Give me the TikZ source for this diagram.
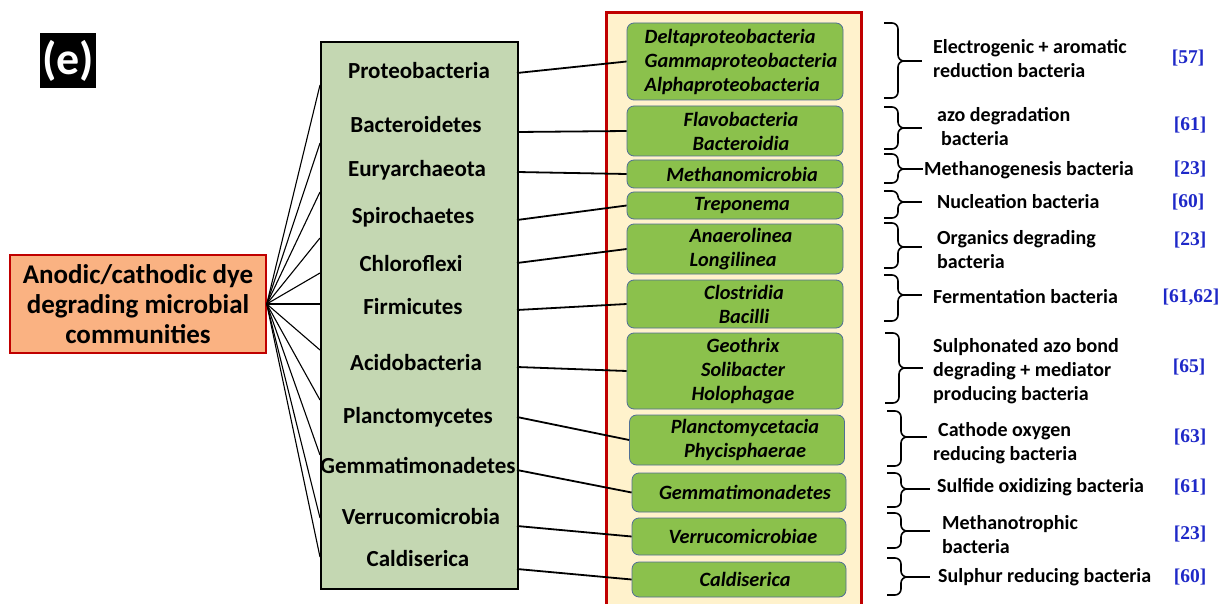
\documentclass[tikz,border=0pt]{standalone}
\usepackage{fontspec}
\setmainfont{Carlito}
\newfontfamily\refont{Liberation Serif}
\definecolor{rootfill}{RGB}{250,178,130}
\definecolor{dred}{RGB}{192,0,0}
\definecolor{phyfill}{RGB}{196,215,178}
\definecolor{panelfill}{RGB}{255,242,204}
\definecolor{clsfill}{RGB}{139,193,76}
\definecolor{clsborder}{RGB}{80,110,150}
\definecolor{refblue}{RGB}{30,40,200}
\tikzset{
 rootbox/.style={draw=dred, line width=1.5, fill=rootfill, align=center, minimum width=256, minimum height=98, font=\fontsize{27}{30}\selectfont\bfseries},
 phy/.style={font=\fontsize{23}{26}\selectfont\bfseries, inner sep=0},
 cls/.style={draw=clsborder, line width=0.8, fill=clsfill, rounded corners=7, align=center, minimum width=216, inner sep=0, font=\fontsize{20.3}{24}\selectfont\bfseries\itshape},
 desc/.style={anchor=west, inner sep=0, align=left, font=\fontsize{20}{24}\selectfont\bfseries},
 refn/.style={text=refblue, inner sep=0, font=\refont\fontsize{19.5}{22}\selectfont\bfseries},
 fan/.style={line width=1.1},
 link/.style={line width=1.8},
 brc/.style={line width=1.6, rounded corners=6},
}
\newcommand\mybrace[6]{%
 \coordinate (#6t) at (#1+21,#4);
 \coordinate (#6e) at (#5,#4);
 \draw[brc] (#1,#2) -- (#1+14,#2) -- (#1+14,#4) -- (#6t);
 \draw[brc] (#1,#3) -- (#1+14,#3) -- (#1+14,#4) -- (#6t);
 \draw[brc] (#6t) -- (#6e);
}
\begin{document}
\begin{tikzpicture}[x=1pt,y=-1pt]
\useasboundingbox (0,0) rectangle (1220,604);
\fill[white] (0,0) rectangle (1220,604);
% label
\node[fill=black, text=white, minimum width=56, minimum height=55, inner sep=0, font=\fontsize{46}{46}\selectfont\bfseries] (lbl) at (68,60.5) {(e)};
% red panel
\draw[draw=dred, line width=3, fill=panelfill] (606,13) rectangle (861,610);
% root
\node[rootbox] (root) at (138,304) {Anodic/cathodic dye\\degrading microbial\\communities};
% phylum box
\node[draw=black, line width=2, fill=phyfill, minimum width=197, minimum height=547, anchor=north west, inner sep=0] (phyl) at (320,41) {};
% fan endpoints
\foreach \i/\y in {1/85,2/143,3/192,4/238,5/273,6/304,7/350,8/400,9/455,10/518,11/557}{
 \coordinate (f\i) at (320,\y);
 \draw[fan] (root.east) -- (f\i);
}
% phylum labels
\node[phy] (ph1) at (419,71) {Proteobacteria};
\node[phy] (ph2) at (416,125) {Bacteroidetes};
\node[phy] (ph3) at (417,170) {Euryarchaeota};
\node[phy] (ph4) at (413,217) {Spirochaetes};
\node[phy] (ph5) at (411,264) {Chloroflexi};
\node[phy] (ph6) at (413,307) {Firmicutes};
\node[phy] (ph7) at (416,363) {Acidobacteria};
\node[phy] (ph8) at (418,417) {Planctomycetes};
\node[phy] (ph9) at (418,465) {Gemmatimonadetes};
\node[phy] (ph10) at (421,517) {Verrucomicrobia};
\node[phy] (ph11) at (418,559) {Caldiserica};
% class boxes
\node[cls, minimum height=77, align=left] (c1) at (735,61.5) {\hspace*{12pt}Deltaproteobacteria\\\hspace*{12pt}Gammaproteobacteria\\\hspace*{12pt}Alphaproteobacteria};
\node[cls, minimum height=50] (c2) at (735,131) {\hspace*{12pt}Flavobacteria\\\hspace*{12pt}Bacteroidia};
\node[cls, minimum height=28] (c3) at (735,174) {\hspace*{14pt}Methanomicrobia};
\node[cls, minimum height=27] (c4) at (735,205.5) {\hspace*{14pt}Treponema};
\node[cls, minimum height=50, align=left] (c5) at (735,249) {\hspace*{12pt}Anaerolinea\\\hspace*{12pt}Longilinea};
\node[cls, minimum height=48] (c6) at (735,304) {\hspace*{18pt}Clostridia\\\hspace*{18pt}Bacilli};
\node[cls, minimum height=76] (c7) at (735,371) {\hspace*{16pt}Geothrix\\\hspace*{16pt}Solibacter\\\hspace*{16pt}Holophagae};
\node[cls, minimum height=50, minimum width=215] (c8) at (737,440) {\hspace*{16pt}Planctomycetacia\\\hspace*{16pt}Phycisphaerae};
\node[cls, minimum height=39, minimum width=214] (c9) at (739,492.5) {\hspace*{12pt}Gemmatimonadetes};
\node[cls, minimum height=37, minimum width=214] (c10) at (739,536.5) {\hspace*{8pt}Verrucomicrobiae};
\node[cls, minimum height=35, minimum width=214] (c11) at (739,579.5) {\hspace*{12pt}Caldiserica};
% phylum -> class links
\foreach \i/\y in {1/73,2/132,3/172,4/220,5/263,6/310,7/367,8/417,9/470,10/526,11/569}{
 \coordinate (p\i) at (517,\y);
 \draw[link] (p\i) -- (c\i.west);
}
% braces
\mybrace{884}{23}{98}{61}{922}{b1}
\mybrace{884}{107}{149}{128}{922}{b2}
\mybrace{884}{154}{183}{169}{923}{b3}
\mybrace{884}{191}{218}{202}{922}{b4}
\mybrace{884}{223}{268}{247}{922}{b5}
\mybrace{884}{275}{321}{295}{922}{b6}
\mybrace{885}{333}{403}{368}{923}{b7}
\mybrace{887}{411}{466}{437}{927}{b8}
\mybrace{887}{473}{507}{489}{930}{b9}
\mybrace{887}{513}{548}{531}{930}{b10}
\mybrace{887}{558}{595}{577}{930}{b11}
% descriptions
\node[desc] (d1) at (933,59) {Electrogenic + aromatic\\reduction bacteria};
\node[desc] (d2) at (937,127) {azo degradation\\\hspace*{4pt}bacteria};
\node[desc] (d3) at (924,170) {Methanogenesis bacteria};
\node[desc] (d4) at (937,202) {Nucleation bacteria};
\node[desc] (d5) at (937,250) {Organics degrading\\bacteria};
\node[desc] (d6) at (933,297) {Fermentation bacteria};
\node[desc] (d7) at (933,371) {Sulphonated azo bond\\degrading + mediator\\producing bacteria};
\node[desc] (d8) at (933,443) {\hspace*{5pt}Cathode oxygen\\reducing bacteria};
\node[desc] (d9) at (937,487) {Sulfide oxidizing bacteria};
\node[desc] (d10) at (942,535) {Methanotrophic\\bacteria};
\node[desc] (d11) at (938,577) {Sulphur reducing bacteria};
% references
\node[refn] (r1) at (1188,58) {[57]};
\node[refn] (r2) at (1190,125) {[61]};
\node[refn] (r3) at (1190,169) {[23]};
\node[refn] (r4) at (1188,202) {[60]};
\node[refn] (r5) at (1190,240) {[23]};
\node[refn] (r6) at (1191,297) {[61,62]};
\node[refn] (r7) at (1189,367) {[65]};
\node[refn] (r8) at (1190,437) {[63]};
\node[refn] (r9) at (1190,487) {[61]};
\node[refn] (r10) at (1190,534) {[23]};
\node[refn] (r11) at (1190,577) {[60]};
\end{tikzpicture}
\end{document}
